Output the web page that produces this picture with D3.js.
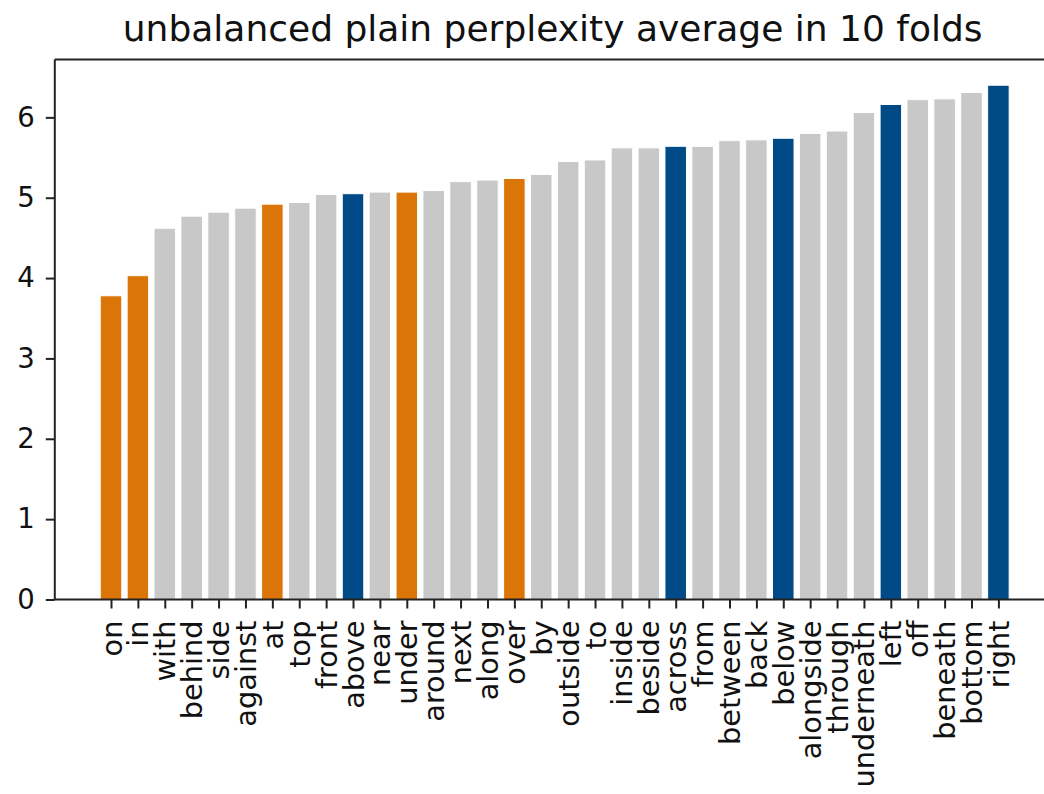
<!DOCTYPE html>
<html>
<head>
<meta charset="utf-8">
<script src="https://cdn.jsdelivr.net/npm/d3@7"></script>
<style>
  html, body { margin: 0; padding: 0; background: #fff; }
  svg { display: block; }
</style>
</head>
<body>
<svg id="chart" width="1044" height="794"></svg>
<script>
// Prepositions, sorted by average perplexity
const categories = ["on","in","with","behind","side","against","at","top","front","above",
  "near","under","around","next","along","over","by","outside","to","inside","beside",
  "across","from","between","back","below","alongside","through","underneath","left",
  "off","beneath","bottom","right"];
const values = [3.78,4.03,4.62,4.77,4.82,4.87,4.92,4.94,5.04,5.05,
  5.07,5.07,5.09,5.20,5.22,5.24,5.29,5.45,5.47,5.62,5.62,
  5.64,5.64,5.71,5.72,5.74,5.80,5.83,6.06,6.16,
  6.22,6.23,6.31,6.40];
// group of each bar: "t" topological, "p" projective, "o" other
const groups = ["t","t","o","o","o","o","t","o","o","p",
  "o","t","o","o","o","t","o","o","o","o","o",
  "p","o","o","o","p","o","o","o","p",
  "o","o","o","p"];
const yTicks = [0,1,2,3,4,5,6];
const chartTitle = "unbalanced plain perplexity average in 10 folds";

const colors = { t: "#db7507", p: "#004b87", o: "#c8c8c8" };

(function draw() {
  const svg = d3.select("#chart");
  const mLeft = 54.8, mRight = 1054.6, mTop = 59.5, mBottom = 599.5;

  // Continuous x like matplotlib: bars at integer positions, 5% margins
  const n = categories.length;
  const xLo = -0.4, xHi = n - 1 + 0.4, pad = (xHi - xLo) * 0.05;
  const x = d3.scaleLinear().domain([xLo - pad, xHi + pad]).range([mLeft, mRight]);
  const yMax = d3.max(values) * 1.05;
  const y = d3.scaleLinear().domain([0, yMax]).range([mBottom, mTop]);
  const barW = x(0.8) - x(0);

  const font = "DejaVu Sans";

  // bars
  svg.append("g").selectAll("rect").data(values).join("rect")
    .attr("x", (d, i) => x(i - 0.4))
    .attr("y", d => y(d))
    .attr("width", barW)
    .attr("height", d => y(0) - y(d))
    .attr("fill", (d, i) => colors[groups[i]])
    .attr("stroke", "#fff")
    .attr("stroke-width", 1);

  // axes frame
  const frame = svg.append("g").attr("stroke", "#222").attr("stroke-width", 2).attr("fill", "none");
  frame.append("line").attr("x1", mLeft).attr("x2", mLeft).attr("y1", mTop).attr("y2", mBottom);
  frame.append("line").attr("x1", mLeft).attr("x2", mRight).attr("y1", mTop).attr("y2", mTop);
  frame.append("line").attr("x1", mLeft).attr("x2", mRight).attr("y1", mBottom).attr("y2", mBottom);
  frame.append("line").attr("x1", mRight).attr("x2", mRight).attr("y1", mTop).attr("y2", mBottom);

  // y axis
  const yAxis = svg.append("g").attr("transform", `translate(${mLeft},0)`)
    .call(d3.axisLeft(y).tickValues(yTicks).tickFormat(d3.format("d")).tickSize(9).tickPadding(11));
  yAxis.select(".domain").remove();
  yAxis.selectAll(".tick line").attr("stroke", "#222").attr("stroke-width", 2);
  yAxis.selectAll(".tick text").attr("font-family", font).attr("font-size", 27.5).attr("fill", "#111");

  // x axis with rotated category labels
  const xAxis = svg.append("g").attr("transform", `translate(0,${mBottom})`)
    .call(d3.axisBottom(x).tickValues(d3.range(n)).tickFormat(i => categories[i]).tickSize(9).tickPadding(0));
  xAxis.select(".domain").remove();
  xAxis.selectAll(".tick line").attr("stroke", "#222").attr("stroke-width", 2);
  xAxis.selectAll(".tick text")
    .attr("font-family", font).attr("font-size", 28.8).attr("fill", "#111")
    .attr("text-anchor", "end")
    .attr("dy", null)
    .attr("y", 0)
    .attr("transform", "translate(0,21) rotate(-90)")
    .attr("dominant-baseline", "central");

  // title
  svg.append("text")
    .attr("x", (mLeft + mRight) / 2 - 2)
    .attr("y", 41)
    .attr("text-anchor", "middle")
    .attr("font-family", font)
    .attr("font-size", 36)
    .attr("fill", "#111")
    .text(chartTitle);
})();
</script>
</body>
</html>
